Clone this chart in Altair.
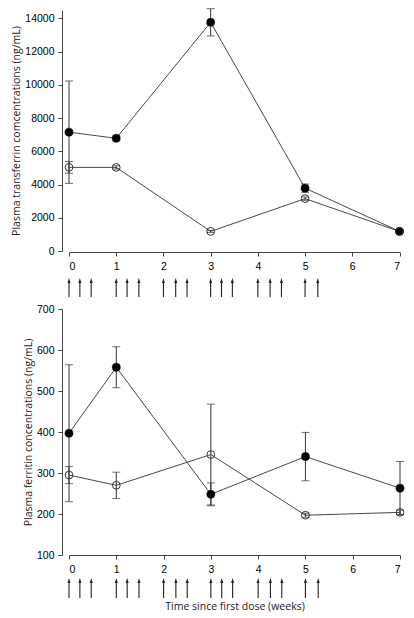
import altair as alt
import pandas as pd

# ---- data ----
weeks = [0, 1, 3, 5, 7]

tf_treated = [7150, 6780, 13760, 3780, 1180]
tf_treated_err = [3080, 150, 820, 250, 60]
tf_control = [5030, 5030, 1180, 3150, 1180]
tf_control_err = [350, 100, 60, 100, 60]

fe_treated = [397, 558, 248, 340, 263]
fe_treated_err = [167, 50, 28, 59, 65]
fe_control = [295, 270, 345, 197, 204]
fe_control_err = [21, 32, 123, 5, 5]

dose_times = [0, 0.23, 0.47, 1, 1.23, 1.48, 2, 2.26, 2.5,
              3, 3.23, 3.46, 4, 4.26, 4.5, 5, 5.27]
x_ticks = [0, 1, 2, 3, 4, 5, 6, 7]
tf_ticks = [0, 2000, 4000, 6000, 8000, 10000, 12000, 14000]
fe_ticks = [100, 200, 300, 400, 500, 600, 700]

INK = "#333333"
AX = "#444444"


def make_df(treated, treated_err, control, control_err):
    rows = []
    for w, v, e in zip(weeks, treated, treated_err):
        rows.append({"week": w, "value": v, "low": v - e, "high": v + e, "group": "treated"})
    for w, v, e in zip(weeks, control, control_err):
        rows.append({"week": w, "value": v, "low": v - e, "high": v + e, "group": "control"})
    return pd.DataFrame(rows)


dose_df = pd.DataFrame({"week": dose_times})


def panel(df, ydomain, yticks, ytitle, w, h, xtitle, arrow_tip, arrow_bot, xoff):
    xs = alt.Scale(domain=[0, 7], nice=False, zero=False)
    xa = alt.Axis(values=x_ticks, title=xtitle, tickSize=4, labelPadding=5,
                  offset=xoff, titlePadding=27, format="d")
    ys = alt.Scale(domain=ydomain, nice=False, zero=False)
    ya = alt.Axis(values=yticks, title=ytitle, tickSize=4, labelPadding=4,
                  offset=7, titlePadding=3, format="d")

    def X():
        return alt.X("week:Q", scale=xs, axis=xa)

    def Y(f):
        return alt.Y(f + ":Q", scale=ys, axis=ya)

    base = alt.Chart(df)
    err = base.mark_rule(color=INK, strokeWidth=1).encode(x=X(), y=Y("low"), y2="high:Q")
    cap_lo = base.mark_tick(orient="horizontal", size=8, thickness=1, color=INK).encode(x=X(), y=Y("low"))
    cap_hi = base.mark_tick(orient="horizontal", size=8, thickness=1, color=INK).encode(x=X(), y=Y("high"))
    lines = base.mark_line(color=INK, strokeWidth=0.9).encode(x=X(), y=Y("value"), detail="group:N")
    pts_t = base.transform_filter(alt.datum.group == "treated").mark_point(
        shape="circle", filled=True, fill="black", stroke="black", strokeWidth=0.5, size=65, opacity=1
    ).encode(x=X(), y=Y("value"))
    pts_c = base.transform_filter(alt.datum.group == "control").mark_point(
        shape="circle", filled=False, stroke=INK, strokeWidth=1, size=60, opacity=1
    ).encode(x=X(), y=Y("value"))

    arrows = alt.Chart(dose_df)
    shafts = arrows.mark_rule(color="#222", strokeWidth=1.1).encode(
        x=X(), y=alt.value(h + arrow_tip + 3), y2=alt.value(h + arrow_bot))
    heads = arrows.mark_point(shape="M0,-1L0.6,1L-0.6,1Z", filled=True, color="#222",
                              size=25, opacity=1).encode(
        x=X(), y=alt.value(h + arrow_tip + 2.5))

    return alt.layer(err, cap_lo, cap_hi, lines, pts_t, pts_c, shafts, heads).properties(
        width=w, height=h)


top = panel(make_df(tf_treated, tf_treated_err, tf_control, tf_control_err),
            [0, 14500], tf_ticks, "Plasma transferrin comcentrations (ng/mL)",
            330.5, 241, None, 27, 46, 1)
bottom = panel(make_df(fe_treated, fe_treated_err, fe_control, fe_control_err),
               [100, 700], fe_ticks, "Plasma ferritin concentrations (ng/mL)",
               331, 246, "Time since first dose (weeks)", 23, 43, 0)

chart = alt.vconcat(top, bottom, spacing=6).properties(
    padding={"left": 3, "right": 0, "top": 0, "bottom": 0}
).configure_view(
    stroke=None
).configure_axis(
    grid=False,
    labelFont="Liberation Sans",
    labelFontSize=10.5,
    labelColor="black",
    titleFont="Open Sans",
    titleFontSize=10.5,
    titleFontWeight="normal",
    titleColor="#222222",
    domainColor=AX,
    tickColor=AX,
    domainWidth=1,
    tickWidth=1,
)

chart.save("out.html", embed_options={"renderer": "svg", "actions": False})
